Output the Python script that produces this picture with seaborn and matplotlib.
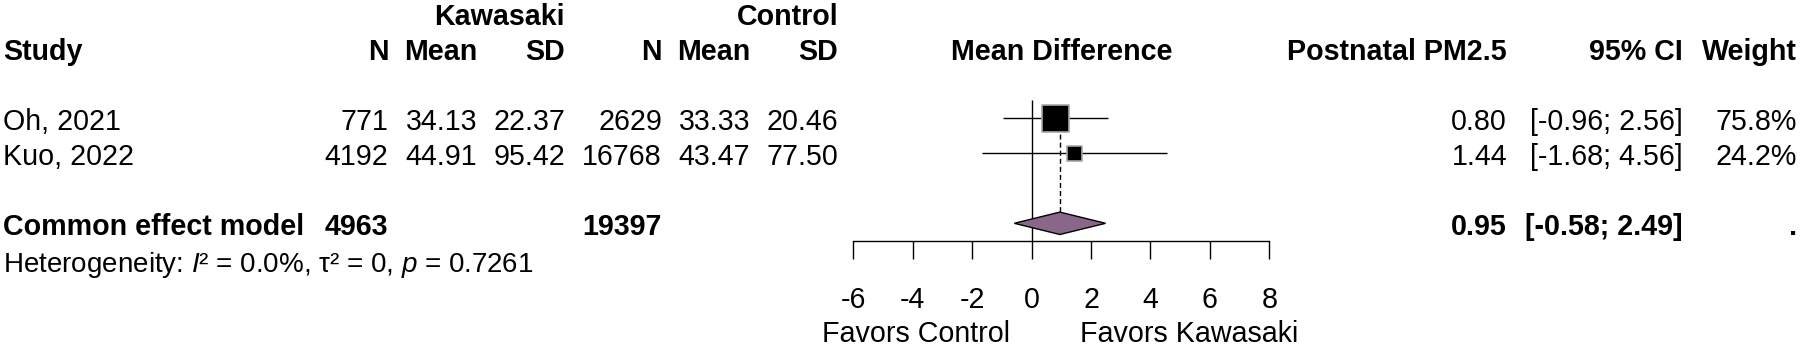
import numpy as np
import pandas as pd
import seaborn as sns
import matplotlib.pyplot as plt
from matplotlib.patches import Polygon
from matplotlib.transforms import blended_transform_factory

# study level data
studies = ['Oh, 2021', 'Kuo, 2022']
n_kd = [771, 4192]
mean_kd = [34.13, 44.91]
sd_kd = [22.37, 95.42]
n_ctrl = [2629, 16768]
mean_ctrl = [33.33, 43.47]
sd_ctrl = [20.46, 77.50]
md = [0.80, 1.44]
ci_low = [-0.96, -1.68]
ci_high = [2.56, 4.56]
weight = [75.8, 24.2]

# pooled (common effect) result
pooled_n_kd = 4963
pooled_n_ctrl = 19397
pooled_md = 0.95
pooled_low = -0.58
pooled_high = 2.49
het_text = 'Heterogeneity: $I$\u00b2 = 0.0%, \u03c4\u00b2 = 0, $p$ = 0.7261'

x_ticks = [-6, -4, -2, 0, 2, 4, 6, 8]

#####################################################################
sns.set_theme(style='white')
plt.rcParams['font.family'] = ['Liberation Sans', 'DejaVu Sans']
plt.rcParams['mathtext.fontset'] = 'custom'
plt.rcParams['mathtext.rm'] = 'Liberation Sans'
plt.rcParams['mathtext.it'] = 'Liberation Sans:italic'
plt.rcParams['mathtext.bf'] = 'Liberation Sans:bold'
plt.rcParams['axes.unicode_minus'] = False

W, H = 1800, 345
FS = 20.6
fig = plt.figure(figsize=(W / 100, H / 100), dpi=100)
fig.patch.set_facecolor('white')

# forest panel: -6..8 sits between x=853 and x=1269 px, rows are 35 px apart
ax = fig.add_axes([853.3 / W, 0, 416 / W, 1])
ax.set_facecolor('none')
ax.set_xlim(-6, 8)
ax.set_ylim(8.477, -1.38)

study_rows = [2, 3]
pooled_row = 5
axis_row = 5.497

for side in ['top', 'left', 'right']:
    ax.spines[side].set_visible(False)
ax.spines['bottom'].set_position(('data', axis_row))
ax.spines['bottom'].set_color('black')
ax.spines['bottom'].set_linewidth(1)
ax.set_xticks(x_ticks)
ax.set_xticklabels([str(t) for t in x_ticks])
ax.set_yticks([])
ax.tick_params(axis='x', bottom=True, direction='out', length=12.6, width=1,
               color='black', pad=20, labelsize=FS, labelcolor='black')
ax.grid(False)

# reference lines
ax.vlines(0, 1.477, axis_row, color='black', lw=1, zorder=2)
ax.vlines(pooled_md, study_rows[0], pooled_row, color='black', lw=1,
          linestyles=(0, (3.6, 2.2)), zorder=1)

# confidence intervals
ax.hlines(study_rows, ci_low, ci_high, color='black', lw=1, zorder=2)

# squares sized by weight
df = pd.DataFrame({'md': md, 'row': study_rows, 'weight': weight})
k = 4.8
sns.scatterplot(data=df, x='md', y='row', size='weight',
                sizes=(min(weight) * k, max(weight) * k), marker='s',
                color='black', edgecolor='#a8a8a8', linewidth=1.2,
                legend=False, ax=ax, zorder=3)
ax.set_xlabel('')
ax.set_ylabel('')

# pooled diamond
dh = 0.32
diamond = Polygon([(pooled_low, pooled_row), (pooled_md, pooled_row - dh),
                   (pooled_high, pooled_row), (pooled_md, pooled_row + dh)],
                  closed=True, facecolor='#8B668B', edgecolor='black', lw=1, zorder=4)
ax.add_patch(diamond)

#####################################################################
# text columns
tr = blended_transform_factory(fig.transFigure, ax.transData)
base = 0.343


def put(xpx, row, s, ha='right', bold=False, size=FS):
    ax.text(xpx / W, row + base, s, transform=tr, ha=ha, va='baseline',
            fontsize=size, fontweight='bold' if bold else 'normal',
            color='black', clip_on=False)


x_study, x_n1, x_m1, x_s1 = 3, 388.5, 477.5, 565
x_n2, x_m2, x_s2 = 662, 750, 838
x_md, x_ci, x_w = 1507, 1683, 1797

put(x_s1, -1, 'Kawasaki', bold=True)
put(x_s2, -1, 'Control', bold=True)

put(x_study, 0, 'Study', ha='left', bold=True)
for x, lab in [(x_n1, 'N'), (x_m1, 'Mean'), (x_s1, 'SD'),
               (x_n2, 'N'), (x_m2, 'Mean'), (x_s2, 'SD'),
               (x_md, 'Postnatal PM2.5'), (x_ci, '95% CI'), (x_w, 'Weight')]:
    put(x, 0, lab, bold=True)
ax.text(0.5, 0 + base, 'Mean Difference', transform=blended_transform_factory(ax.transAxes, ax.transData),
        ha='center', va='baseline', fontsize=FS, fontweight='bold', color='black')

for i, row in enumerate(study_rows):
    put(x_study, row, studies[i], ha='left')
    put(x_n1, row, f'{n_kd[i]}')
    put(x_m1, row, f'{mean_kd[i]:.2f}')
    put(x_s1, row, f'{sd_kd[i]:.2f}')
    put(x_n2, row, f'{n_ctrl[i]}')
    put(x_m2, row, f'{mean_ctrl[i]:.2f}')
    put(x_s2, row, f'{sd_ctrl[i]:.2f}')
    put(x_md, row, f'{md[i]:.2f}')
    put(x_ci, row, f'[{ci_low[i]:.2f}; {ci_high[i]:.2f}]')
    put(x_w, row, f'{weight[i]:.1f}%')

put(x_study, pooled_row, 'Common effect model', ha='left', bold=True)
put(x_n1, pooled_row, f'{pooled_n_kd}', bold=True)
put(x_n2, pooled_row, f'{pooled_n_ctrl}', bold=True)
put(x_md, pooled_row, f'{pooled_md:.2f}', bold=True)
put(x_ci, pooled_row, f'[{pooled_low:.2f}; {pooled_high:.2f}]', bold=True)
put(x_w, pooled_row, '.', bold=True)

put(x_study, 6.06, het_text, ha='left', size=FS * 0.97)

put(1010, 8.05, 'Favors Control')
put(1080, 8.05, 'Favors Kawasaki', ha='left')

fig.savefig('out.png', dpi=100, facecolor='white')
